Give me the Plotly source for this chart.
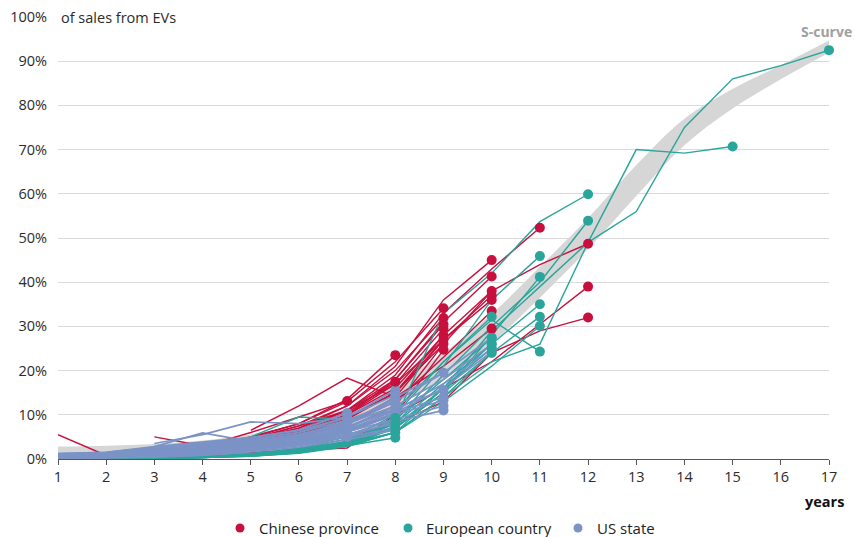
import plotly.graph_objects as go

YEARS = list(range(1, 18))
Y_TICKS = [0, 10, 20, 30, 40, 50, 60, 70, 80, 90, 100]
Y_TICK_TEXT = ["0%", "10%", "20%", "30%", "40%", "50%", "60%", "70%", "80%", "90%", "100%"]

SCURVE_LOW = [0.4, 0.6, 1.0, 1.8, 3.0, 5.0, 7.5, 12.0, 18.0, 26.2, 36.5, 47.5, 59.5, 71.0, 79.3, 85.9, 91.9]
SCURVE_HIGH = [2.8, 3.0, 3.4, 4.2, 5.6, 8.0, 11.5, 17.0, 24.0, 32.8, 43.5, 54.5, 66.5, 77.0, 83.7, 89.1, 94.7]

CHINA = [
    [None, 0.6, 1.0, 1.8, 3.2, 5.5, 9.0, 15.0, 26.0, 38.0, 44.0, 48.7],
    [None, 0.5, 0.8, 1.4, 2.5, 4.0, 6.5, 10.0, 16.0, 22.0, 30.5, 39.0],
    [None, 0.4, 0.7, 1.2, 2.0, 3.2, 5.0, 8.0, 13.0, 24.0, 29.0, 32.0],
    [None, 0.8, 1.4, 2.6, 4.2, 7.0, 11.0, 19.0, 33.0, 43.0, 52.3],
    [None, 1.0, 1.6, 2.8, 4.5, 7.5, 12.0, 21.0, 36.0, 45.0],
    [None, 0.7, 1.2, 2.2, 3.8, 6.0, 10.0, 18.0, 31.0, 41.3],
    [5.5, 0.8, 1.4, 2.4, 3.8, 6.2, 10.0, 16.0, 28.0, 38.0],
    [None, 0.6, 1.1, 2.0, 3.5, 5.8, 9.5, 15.0, 27.0, 37.0],
    [None, None, 5.0, 3.0, 4.5, 7.5, 11.0, 17.0, 27.0, 36.0],
    [None, 0.5, 0.9, 1.7, 3.0, 5.0, 8.0, 13.0, 23.0, 33.5],
    [None, None, None, None, 6.5, 12.0, 18.3, 14.0, 21.0, 29.5],
    [None, 0.9, 1.5, 2.8, 6.0, 9.5, 13.1],
    [None, 1.0, 1.8, 3.0, 5.0, 8.0, 13.0, 22.0, 34.1],
    [None, 0.8, 1.5, 2.6, 4.5, 7.0, 12.0, 20.0, 31.9],
    [None, 0.7, 1.3, 2.4, 4.0, 6.5, 11.0, 18.0, 30.5],
    [None, 0.6, 1.2, 2.2, 3.8, 6.0, 10.0, 17.0, 29.5],
    [None, 0.5, 1.0, 2.0, 3.5, 5.5, 9.0, 15.0, 28.0],
    [None, 0.5, 0.9, 1.8, 3.2, 5.0, 8.0, 14.0, 27.0],
    [None, 0.4, 0.8, 1.5, 2.8, 4.5, 7.0, 12.0, 26.0],
    [None, 0.3, 0.6, 1.0, 1.5, 2.0, 2.5, 10.0, 24.7],
    [None, 0.9, 1.6, 2.8, 4.8, 8.0, 13.5, 23.5],
    [None, 0.7, 1.2, 2.2, 3.8, 6.5, 10.5, 17.5],
]

EUROPE = [
    [0.1, 0.2, 0.3, 0.5, 1.0, 1.8, 3.2, 6.0, 16.0, 29.0, 39.0, 49.0, 56.0, 75.0, 86.0, 89.0, 92.5],
    [0.1, 0.1, 0.2, 0.4, 0.8, 1.5, 3.0, 6.0, 14.0, 22.0, 26.0, 49.0, 70.0, 69.2, 70.7],
    [0.1, 0.2, 0.3, 0.6, 1.2, 2.2, 4.0, 9.0, 33.0, 42.0, 53.7, 59.9],
    [0.1, 0.2, 0.3, 0.5, 1.0, 2.0, 3.8, 8.0, 19.0, 30.0, 40.0, 53.9],
    [0.1, 0.2, 0.3, 0.5, 1.0, 2.0, 4.0, 8.5, 21.0, 36.0, 45.9],
    [0.1, 0.1, 0.2, 0.4, 0.8, 1.6, 3.5, 7.0, 15.0, 28.0, 41.2],
    [0.1, 0.1, 0.2, 0.4, 0.8, 1.5, 3.2, 7.0, 16.0, 26.0, 35.0],
    [0.1, 0.1, 0.2, 0.3, 0.7, 1.4, 3.0, 6.0, 14.0, 24.0, 32.2],
    [0.1, 0.1, 0.2, 0.3, 0.6, 1.3, 2.8, 6.0, 13.0, 21.0, 30.1],
    [0.1, 0.2, 0.3, 0.6, 1.2, 2.4, 4.5, 10.0, 22.0, 31.5, 24.3],
    [0.1, 0.2, 0.4, 2.0, 5.0, 9.5, 9.0, 11.0, 22.0, 32.2],
    [0.1, 0.1, 0.2, 0.4, 0.9, 1.8, 3.8, 9.0, 18.0, 27.4],
    [0.1, 0.1, 0.2, 0.4, 0.8, 1.7, 3.5, 8.0, 17.0, 26.0],
    [0.1, 0.1, 0.2, 0.3, 0.7, 1.5, 3.2, 7.5, 16.0, 25.0],
    [0.1, 0.1, 0.2, 0.3, 0.6, 1.4, 3.0, 7.0, 15.0, 24.0],
    [0.1, 0.2, 0.3, 0.5, 1.1, 2.5, 5.0, 9.3],
    [0.1, 0.1, 0.2, 0.4, 1.0, 2.2, 4.5, 8.0],
    [0.1, 0.1, 0.2, 0.4, 0.9, 2.0, 4.0, 7.0],
    [0.1, 0.1, 0.2, 0.3, 0.8, 1.8, 3.5, 6.0],
    [0.1, 0.1, 0.1, 0.3, 0.7, 1.6, 3.0, 4.8],
]

US = [
    [1.0, 1.2, 1.6, 2.4, 3.4, 4.8, 7.8, 13.0, 19.5, 27.5],
    [0.8, 1.0, 1.4, 2.0, 3.0, 4.4, 7.2, 12.0, 18.0, 26.0],
    [0.6, 0.8, 1.2, 1.8, 2.7, 4.1, 6.6, 11.0, 17.0, 25.0],
    [0.4, 0.6, 1.0, 1.6, 2.4, 3.8, 6.1, 10.5, 16.0, 24.3],
    [1.1, 1.3, 1.8, 2.6, 3.6, 5.0, 8.0, 14.0, 19.5],
    [0.9, 1.1, 1.5, 2.2, 3.1, 4.4, 7.0, 11.5, 15.6],
    [0.7, 0.9, 1.3, 1.9, 2.8, 4.0, 6.4, 10.5, 14.0],
    [0.5, 0.7, 1.1, 1.7, 2.5, 3.7, 6.0, 10.0, 13.3],
    [0.3, 0.5, 0.9, 1.4, 2.2, 3.3, 5.5, 9.0, 12.0],
    [0.2, 0.4, 0.7, 1.2, 1.9, 3.0, 5.0, 8.5, 11.0],
    [None, None, 3.5, 5.5, 8.4, 8.0, 9.5, 15.6],
    [None, None, 2.8, 5.9, 4.0, 5.6, 8.2, 13.5],
    [1.2, 1.5, 2.8, 3.8, 4.9, 6.4, 9.5, 14.5],
    [1.0, 1.3, 2.4, 3.4, 4.5, 6.0, 8.8, 13.0],
    [0.8, 1.1, 2.0, 3.0, 4.1, 5.5, 8.0, 12.0],
    [0.6, 0.9, 1.6, 2.6, 3.7, 5.0, 7.4, 11.0],
    [0.5, 0.7, 1.3, 2.2, 3.3, 4.6, 6.8, 10.0],
    [0.4, 0.6, 1.0, 1.8, 2.9, 4.2, 6.2, 9.0],
    [0.3, 0.4, 0.8, 1.4, 2.4, 3.7, 5.6, 8.0],
    [0.2, 0.3, 0.6, 1.1, 2.0, 3.2, 5.0, 7.0],
    [0.1, 0.2, 0.4, 0.8, 1.6, 2.7, 4.4, 6.6],
    [1.2, 1.5, 2.6, 3.6, 4.8, 6.6, 10.4],
    [1.0, 1.3, 2.2, 3.2, 4.4, 6.0, 9.5],
    [0.8, 1.1, 1.9, 2.8, 3.9, 5.4, 8.5],
    [0.6, 0.9, 1.6, 2.4, 3.4, 4.8, 7.5],
    [0.4, 0.7, 1.2, 2.0, 2.9, 4.2, 6.5],
    [0.3, 0.5, 0.9, 1.6, 2.4, 3.6, 5.5],
    [0.2, 0.3, 0.6, 1.2, 2.0, 3.1, 5.0],
]

GROUP_NAMES = ["Chinese province", "European country", "US state"]
RED = "#c8103e"
TEAL = "#2aa59b"
BLUE = "#7b93c6"
TEXT = "#2b2b2b"
FONT = "Open Sans"
FS = 14.5

fig = go.Figure()

# S-curve band
fig.add_trace(go.Scatter(x=YEARS, y=SCURVE_LOW, mode="lines", line=dict(width=0, shape="spline", color="#d6d6d6"),
                         showlegend=False, hoverinfo="skip"))
fig.add_trace(go.Scatter(x=YEARS, y=SCURVE_HIGH, mode="lines", line=dict(width=0, shape="spline", color="#d6d6d6"),
                         fill="tonexty", fillcolor="#d6d6d6", showlegend=False, hoverinfo="skip"))

ends = {}
for key, series, col, w in [("cn", CHINA, RED, 1.4), ("eu", EUROPE, TEAL, 1.4), ("us", US, BLUE, 1.7)]:
    ex, ey = [], []
    for s in series:
        xs = [YEARS[i] for i, v in enumerate(s) if v is not None]
        ys = [v for v in s if v is not None]
        fig.add_trace(go.Scatter(x=xs, y=ys, mode="lines", line=dict(color=col, width=w),
                                 showlegend=False, hoverinfo="skip", cliponaxis=False))
        ex.append(xs[-1])
        ey.append(ys[-1])
    ends[key] = (ex, ey, col)

for key in ["us", "cn", "eu"]:
    ex, ey, col = ends[key]
    fig.add_trace(go.Scatter(x=ex, y=ey, mode="markers", marker=dict(color=col, size=10),
                             showlegend=False, hoverinfo="skip", cliponaxis=False))

# manual legend (dot + label), positioned in paper coordinates
PLOT_L, PLOT_W, PLOT_B, PLOT_H = 58, 771, 459, 442
def px_x(p):
    return (p - PLOT_L) / PLOT_W
def px_y(p):
    return (PLOT_B - p) / PLOT_H

legend_dot_px = [240, 408, 578]
legend_text_px = [257, 424, 595]
shapes = []
annotations = []
for name, col, dx, tx in zip(GROUP_NAMES, [RED, TEAL, BLUE], legend_dot_px, legend_text_px):
    shapes.append(dict(type="circle", xref="paper", yref="paper", xsizemode="pixel", ysizemode="pixel",
                       xanchor=px_x(dx), yanchor=px_y(528), x0=-4.5, x1=4.5, y0=-4.5, y1=4.5,
                       fillcolor=col, line=dict(width=0)))
    annotations.append(dict(text=name, x=px_x(tx), y=px_y(528), xref="paper", yref="paper",
                            xanchor="left", yanchor="middle", showarrow=False,
                            font=dict(family=FONT, size=15, color="#222222")))

annotations += [
    dict(text="of sales from EVs", x=1, y=100, xref="x", yref="y", xanchor="left", yanchor="middle",
         showarrow=False, bgcolor="white", borderpad=2,
         font=dict(family=FONT, size=FS, color=TEXT)),
    dict(text="<b>years</b>", x=px_x(846), y=px_y(501), xref="paper", yref="paper",
         xanchor="right", yanchor="middle", showarrow=False,
         font=dict(family=FONT, size=FS, color="#111111")),
    dict(text="<b>S-curve</b>", x=px_x(854), y=px_y(31), xref="paper", yref="paper",
         xanchor="right", yanchor="middle", showarrow=False,
         font=dict(family=FONT, size=14, color="#a0a0a0")),
]

fig.update_layout(
    width=855, height=537,
    margin=dict(l=58, r=26, t=17, b=78, autoexpand=False),
    paper_bgcolor="white", plot_bgcolor="white",
    font=dict(family=FONT, size=FS, color=TEXT),
    showlegend=False,
    xaxis=dict(range=[1, 17], tickvals=YEARS, showgrid=False, zeroline=False,
               showline=True, linecolor="#555555", linewidth=1,
               ticks="outside", ticklen=5, tickcolor="#555555", automargin=False,
               tickfont=dict(family=FONT, size=FS, color=TEXT), fixedrange=True),
    yaxis=dict(range=[0, 100], tickvals=Y_TICKS, ticktext=Y_TICK_TEXT, showgrid=True,
               gridcolor="#dadada", gridwidth=1, zeroline=False, showline=False,
               ticks="", ticklabelstandoff=10, automargin=False,
               tickfont=dict(family=FONT, size=FS, color=TEXT), fixedrange=True),
    shapes=shapes,
    annotations=annotations,
)

fig.write_html("out.html", config={"displayModeBar": False},
               post_script="document.body.style.margin='0';document.body.style.padding='0';")
